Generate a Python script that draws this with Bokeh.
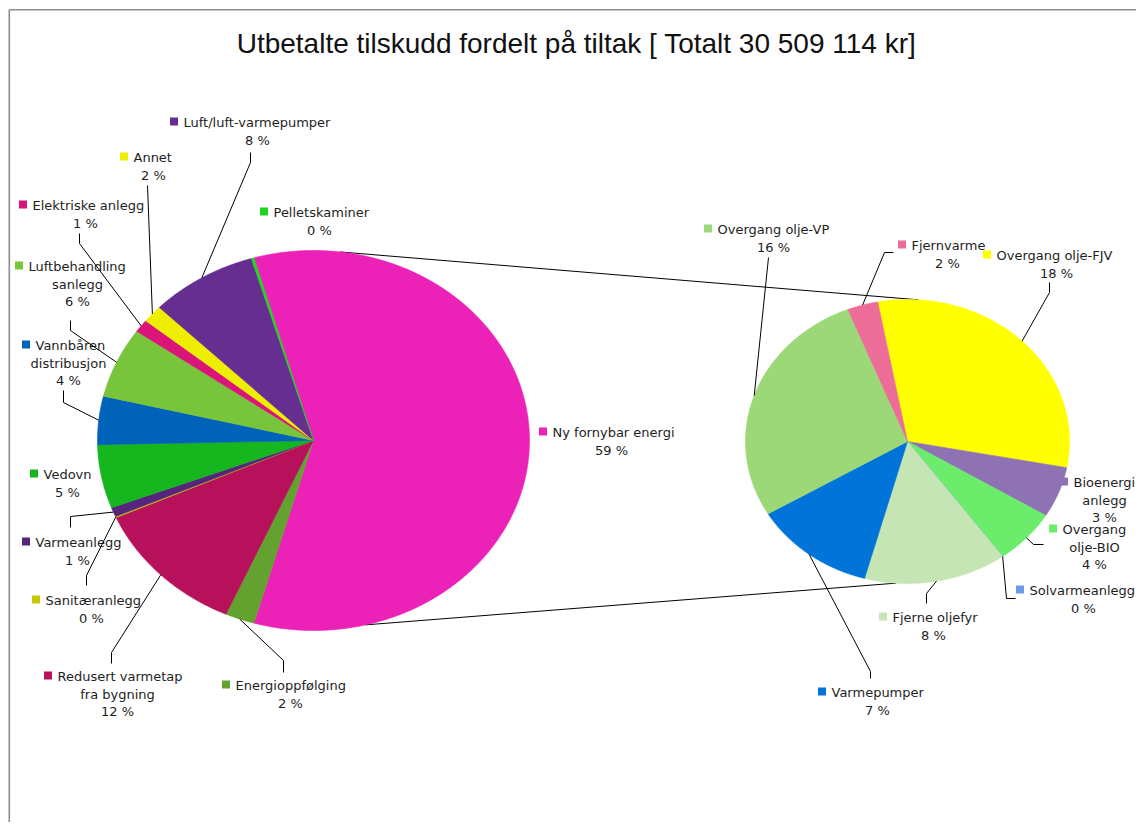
import numpy as np
from bokeh.plotting import figure
from bokeh.models import Range1d
from bokeh.core.properties import value
from bokeh.embed import file_html
from bokeh.resources import INLINE

TITLE = "Utbetalte tilskudd fordelt på tiltak [ Totalt 30 509 114 kr]"

# ---------------- data (share of total, %) ----------------
# main pie, clockwise starting with the slice that is split into the second pie
main_names = ["Ny fornybar energi", "Energioppfølging", "Redusert varmetap\nfra bygning",
              "Sanitæranlegg", "Varmeanlegg", "Vedovn", "Vannbåren\ndistribusjon",
              "Luftbehandling\nsanlegg", "Elektriske anlegg", "Annet",
              "Luft/luft-varmepumper", "Pelletskaminer"]
main_values = [58.9, 2.2, 11.7, 0.1, 0.8, 5.4, 4.1, 6.0, 1.1, 1.5, 8.0, 0.2]
main_colors = ["#EC21B8", "#64A22F", "#B6115A", "#C8C800", "#55257E", "#16B61E",
               "#0062B8", "#78C43A", "#DA1478", "#EEEE00", "#652E90", "#20D420"]

# second pie (breakdown of "Ny fornybar energi"), clockwise
sub_names = ["Overgang olje-FJV", "Bioenergi\nanlegg", "Overgang\nolje-BIO", "Solvarmeanlegg",
             "Fjerne oljefyr", "Varmepumper", "Overgang olje-VP", "Fjernvarme"]
sub_values = [18.2, 3.4, 3.7, 0.0, 8.4, 7.2, 16.2, 1.8]
sub_colors = ["#FFFF00", "#8F72B4", "#6BEC6B", "#6A9BEA", "#C6E5B4", "#0074D9",
              "#9CD878", "#EC6E98"]

# ---------------- layout (pixels) ----------------
W, H = 1136, 822
MAIN = dict(cx=313, cy=440, rx=216, ry=190)
SUB = dict(cx=907, cy=441, rx=162, ry=142)
SUB_START = -10.6
LINE_H = 17.5
FONT = value("DejaVu Sans")

# label layout: text-left of first line, y of first line, centre x of other lines, leader (elbow, end)
main_layout = {
    "Ny fornybar energi": (552, 431, 611, None),
    "Energioppfølging": (235, 684, 290, [(283, 660), (283, 672)]),
    "Redusert varmetap\nfra bygning": (57, 675, 117, [(111, 652), (111, 663)]),
    "Sanitæranlegg": (45, 599, 91, [(86, 575), (86, 585)]),
    "Varmeanlegg": (35, 541, 77, [(70, 516), (70, 527)]),
    "Vedovn": (43, 473, 67, None),
    "Vannbåren\ndistribusjon": (35, 344, 68, [(63, 402), (63, 390)]),
    "Luftbehandling\nsanlegg": (28, 265, 77, [(70, 330), (70, 320)]),
    "Elektriske anlegg": (32, 204, 85, [(79, 243), (79, 233)]),
    "Annet": (133, 156, 153, [(147, 185), (147, 185)]),
    "Luft/luft-varmepumper": (183, 121, 257, [(250, 162), (250, 152)]),
    "Pelletskaminer": (273, 211, 319, None),
}
sub_layout = {
    "Overgang olje-FJV": (996, 254, 1056, [(1049, 292), (1049, 282)]),
    "Bioenergi\nanlegg": (1073, 481, 1104, None),
    "Overgang\nolje-BIO": (1062, 528, 1094, [(1033, 544), (1043, 544)]),
    "Solvarmeanlegg": (1029, 589, 1083, [(1006, 598), (1015, 598)]),
    "Fjerne oljefyr": (892, 616, 933, [(926, 593), (926, 603)]),
    "Varmepumper": (831, 691, 877, [(870, 671), (870, 678)]),
    "Overgang olje-VP": (717, 228, 773, [(768, 257), (768, 257)]),
    "Fjernvarme": (911, 244, 947, [(884, 252), (893, 252)]),
}


def pt(g, deg, k=1.0):
    t = np.radians(deg)
    return g["cx"] + k * g["rx"] * np.sin(t), g["cy"] - k * g["ry"] * np.cos(t)


def slices(values, start):
    tot = float(sum(values))
    out, a = [], start
    for v in values:
        span = v / tot * 360.0
        out.append((a, a + span))
        a += span
    return out


def patches_for(g, spans):
    xs, ys = [], []
    for a0, a1 in spans:
        n = max(2, int(abs(a1 - a0) * 2) + 2)
        ts = np.linspace(a0, a1, n)
        px, py = pt(g, ts)
        xs.append([g["cx"]] + list(px))
        ys.append([g["cy"]] + list(py))
    return xs, ys


p = figure(width=W, height=H, x_range=Range1d(0, W), y_range=Range1d(H, 0),
           x_axis_type=None, y_axis_type=None, output_backend="svg",
           toolbar_location=None, min_border=0)
p.grid.visible = False
p.outline_line_color = None
p.background_fill_color = "white"
p.border_fill_color = "white"

# chart-area border (top and left visible)
p.line([8.8, 8.8], [9.3, H], line_color="#8C8C8C", line_width=1.6)
p.line([8.8, W], [9.3, 9.3], line_color="#8C8C8C", line_width=1.6)

main_total = sum(main_values)
main_start = 90 - main_values[0] / main_total * 360 / 2
main_spans = slices(main_values, main_start)
sub_spans = slices(sub_values, SUB_START)

# connector lines between the pies
ct = [pt(MAIN, 7), pt(SUB, 4)]
cb = [pt(MAIN, 166), pt(SUB, 184)]
p.multi_line([[ct[0][0], ct[1][0]], [cb[0][0], cb[1][0]]],
             [[ct[0][1], ct[1][1]], [cb[0][1], cb[1][1]]], line_color="black", line_width=1)

for g, spans, cols in ((MAIN, main_spans, main_colors), (SUB, sub_spans, sub_colors)):
    xs, ys = patches_for(g, spans)
    p.patches(xs, ys, fill_color=cols, line_color=cols, line_width=0.6)

# labels
lx, ly = [], []
for g, names, vals, cols, spans, lay in (
        (MAIN, main_names, main_values, main_colors, main_spans, main_layout),
        (SUB, sub_names, sub_values, sub_colors, sub_spans, sub_layout)):
    for name, v, c, (a0, a1) in zip(names, vals, cols, spans):
        tx, ty, cx, lead = lay[name]
        lines = name.split("\n")
        p.rect(x=[tx - 9.5], y=[ty], width=8, height=8, fill_color=c, line_color=None)
        p.text(x=[tx], y=[ty + 1], text=[lines[0]], text_font=FONT, text_font_size="13px",
               text_align="left", text_baseline="middle", text_color="#1E1E1E")
        rest = lines[1:] + ["%d %%" % int(v + 0.5)]
        p.text(x=[cx] * len(rest), y=[ty + 1 + LINE_H * (i + 1) for i in range(len(rest))],
               text=rest, text_font=FONT, text_font_size="13px",
               text_align="center", text_baseline="middle", text_color="#1E1E1E")
        if lead:
            ex, ey = pt(g, (a0 + a1) / 2)
            lx.append([ex] + [q[0] for q in lead])
            ly.append([ey] + [q[1] for q in lead])
p.multi_line(lx, ly, line_color="black", line_width=1)

p.text(x=[576], y=[43], text=[TITLE], text_font=value("Liberation Sans"),
       text_font_size="28px", text_align="center", text_baseline="alphabetic",
       text_color="#111111")

open("out.html", "w").write(file_html(p, INLINE))
